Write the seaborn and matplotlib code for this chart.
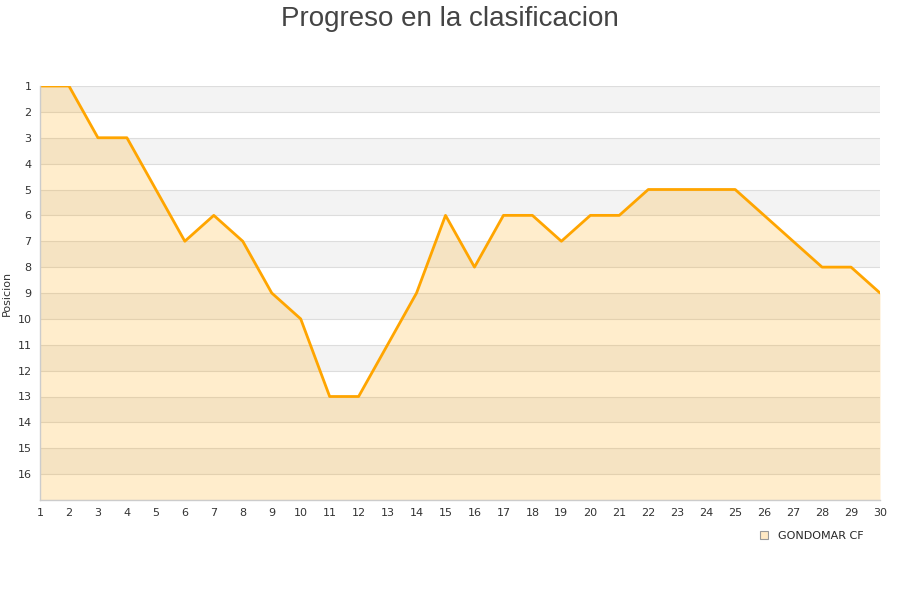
import matplotlib
matplotlib.use("Agg")
import matplotlib.pyplot as plt
import seaborn as sns
import pandas as pd
from matplotlib.lines import Line2D

jornadas = list(range(1, 31))
posiciones = [1, 1, 3, 3, 5, 7, 6, 7, 9, 10, 13, 13, 11, 9, 6, 8, 6, 6, 7, 6, 6, 5, 5, 5, 5, 6, 7, 8, 8, 9]
equipo = "GONDOMAR CF"
titulo = "Progreso en la clasificacion"
ylabel = "Posicion"
yticks = list(range(1, 17))

sns.set_theme(style="white")
plt.rcParams['font.family'] = ['DejaVu Sans']

df = pd.DataFrame({"Jornada": jornadas, "Posicion": posiciones})

fig = plt.figure(figsize=(9, 6), dpi=100)
ax = fig.add_axes([40/900, 100/600, 840/900, 414/600])

# alternating bands
for k in range(1, 17, 2):
    ax.axhspan(k, k + 1, color="#f3f3f3", zorder=0, lw=0)
for k in range(1, 18):
    ax.axhline(k, color="#dddddd", lw=0.8, zorder=0.5)

ax.fill_between(df["Jornada"], df["Posicion"], 17, color="#FFA500", alpha=0.2, lw=0, zorder=1)
sns.lineplot(data=df, x="Jornada", y="Posicion", ax=ax, color="#FFA500", lw=2.0, zorder=2)

ax.set_xlim(1, 30)
ax.set_ylim(17, 1)
ax.set_xticks(jornadas)
ax.set_yticks(yticks)
ax.tick_params(axis="both", length=0, labelsize=8, colors="#333333", pad=6)
ax.set_xlabel("")
ax.set_ylabel(ylabel, fontsize=8, color="#333333", labelpad=4)
for s in ["top", "right"]:
    ax.spines[s].set_visible(False)
for s in ["left", "bottom"]:
    ax.spines[s].set_color("#cccccc")
    ax.spines[s].set_linewidth(1)

fig.suptitle(titulo, fontsize=20, color="#444444", y=0.99, fontfamily="Liberation Sans")

handle = Line2D([], [], marker="s", linestyle="none", markersize=6,
                markerfacecolor="#FFE9C4", markeredgecolor="#999999", markeredgewidth=0.8)
fig.legend([handle], [equipo], loc="center left", bbox_to_anchor=(748/900, 1 - 536/600),
           frameon=False, fontsize=8, handletextpad=0.3, borderaxespad=0)

fig.savefig("out.png", dpi=100)
